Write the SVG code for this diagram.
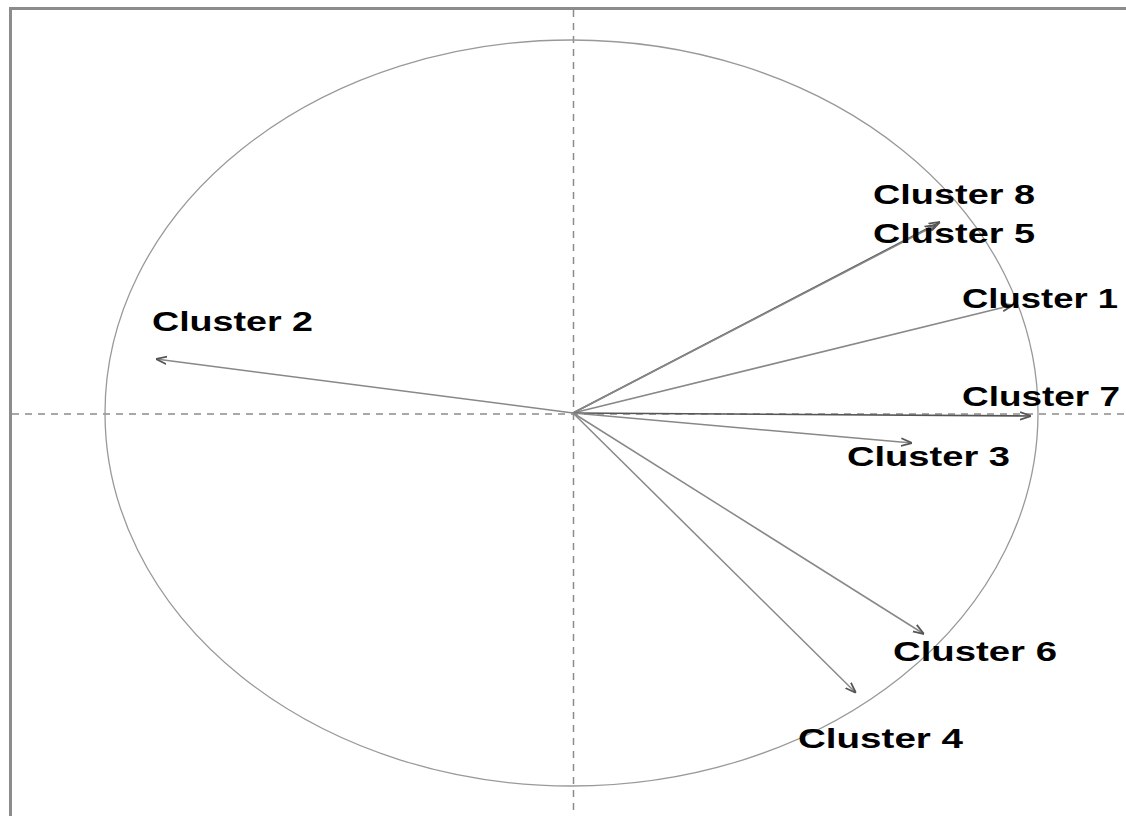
<svg xmlns="http://www.w3.org/2000/svg" width="1126" height="816" viewBox="0 0 1126 816">
  <style>
    .frame { stroke: #8c8c8c; stroke-width: 3; fill: none; }
    .axis { stroke: #8c8c8c; stroke-width: 1.5; stroke-dasharray: 7 6; fill: none; }
    .circle { stroke: #999; stroke-width: 1.3; fill: none; }
    .vec { stroke: #888; stroke-width: 1.5; fill: none; marker-end: url(#ah); }
    .vecd { stroke: #555; stroke-width: 1.6; fill: none; marker-end: url(#ah); }
    .lbl { font-family: "Liberation Sans", Arial, sans-serif; font-weight: bold; font-size: 28px; fill: #000; }
  </style>
  <defs>
    <marker id="ah" viewBox="0 0 10 10" refX="10" refY="5" markerWidth="11" markerHeight="11" markerUnits="userSpaceOnUse" orient="auto">
      <path d="M0,1.5 L10,5 L0,8.5" fill="none" stroke="#555" stroke-width="1.6"/>
    </marker>
  </defs>
  <rect width="1126" height="816" fill="#fff"/>
  <g id="frame">
    <line class="frame" x1="9" y1="8.5" x2="1126" y2="8.5"/>
    <line class="frame" x1="10.5" y1="7" x2="10.5" y2="816"/>
  </g>
  <g id="axes">
    <line class="axis" x1="573.5" y1="10" x2="573.5" y2="816"/>
    <line class="axis" x1="12" y1="414" x2="1126" y2="414"/>
  </g>
  <g id="correlation-circle">
    <ellipse class="circle" cx="571.5" cy="413" rx="466.5" ry="373"/>
  </g>
  <g id="connectors">
    <line class="vec" x1="573" y1="413" x2="156" y2="359"/>
    <line class="vecd" x1="573" y1="413" x2="940" y2="222"/>
    <line class="vec" x1="573" y1="413" x2="936" y2="225"/>
    <line class="vec" x1="573" y1="413" x2="1013" y2="305"/>
    <line class="vecd" x1="573" y1="413" x2="1031" y2="416"/>
    <line class="vec" x1="573" y1="413" x2="912" y2="443"/>
    <line class="vec" x1="573" y1="413" x2="924" y2="634"/>
    <line class="vec" x1="573" y1="413" x2="856" y2="693"/>
  </g>
  <g id="cluster-2"><text class="lbl" x="152" y="331" textLength="161" lengthAdjust="spacingAndGlyphs">Cluster 2</text></g>
  <g id="cluster-8"><text class="lbl" x="873" y="204" textLength="162" lengthAdjust="spacingAndGlyphs">Cluster 8</text></g>
  <g id="cluster-5"><text class="lbl" x="873" y="243" textLength="162" lengthAdjust="spacingAndGlyphs">Cluster 5</text></g>
  <g id="cluster-1"><text class="lbl" x="962" y="308" textLength="156" lengthAdjust="spacingAndGlyphs">Cluster 1</text></g>
  <g id="cluster-7"><text class="lbl" x="962" y="406" textLength="158" lengthAdjust="spacingAndGlyphs">Cluster 7</text></g>
  <g id="cluster-3"><text class="lbl" x="847" y="466" textLength="163" lengthAdjust="spacingAndGlyphs">Cluster 3</text></g>
  <g id="cluster-6"><text class="lbl" x="893" y="661" textLength="164" lengthAdjust="spacingAndGlyphs">Cluster 6</text></g>
  <g id="cluster-4"><text class="lbl" x="798" y="748" textLength="165" lengthAdjust="spacingAndGlyphs">Cluster 4</text></g>
</svg>
